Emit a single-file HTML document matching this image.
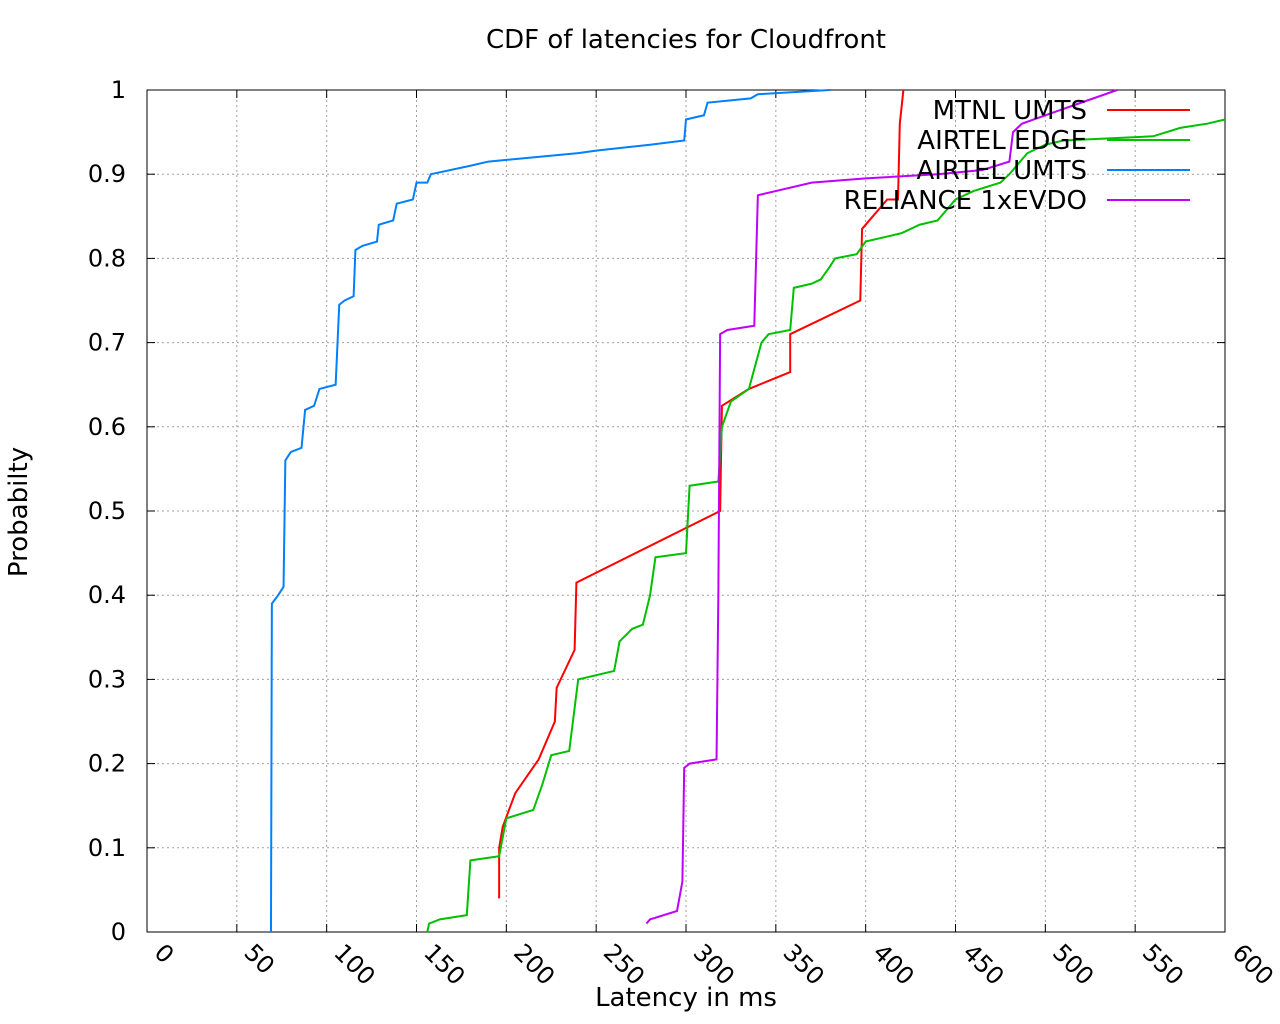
<!DOCTYPE html>
<html><head><meta charset="utf-8"><style>
html,body{margin:0;padding:0;background:#fff;}
svg{display:block;font-family:"DejaVu Sans","Liberation Sans",sans-serif;}
</style></head><body>
<svg id="chart" width="1280" height="1024" viewBox="0 0 1280 1024" xmlns="http://www.w3.org/2000/svg">
<rect width="1280" height="1024" fill="#fff"/>
<text x="686" y="48" font-size="26" text-anchor="middle">CDF of latencies for Cloudfront</text>
<g id="grid"></g><g id="axes"></g><g id="series"></g><g id="legend"></g>
<text x="686" y="1006" font-size="26" text-anchor="middle">Latency in ms</text>
<text transform="translate(27,512) rotate(-90)" font-size="26" text-anchor="middle">Probabilty</text>
</svg>
<script>
const xTicks=[0,50,100,150,200,250,300,350,400,450,500,550,600];
const yTicks=[0,0.1,0.2,0.3,0.4,0.5,0.6,0.7,0.8,0.9,1];
const yTickLabels=["0","0.1","0.2","0.3","0.4","0.5","0.6","0.7","0.8","0.9","1"];
const seriesNames=["MTNL UMTS","AIRTEL EDGE","AIRTEL UMTS","RELIANCE 1xEVDO"];
const seriesColors=["#ff0000","#00c000","#0080ff","#c000ff"];
const mtnl=[[196,0.04],[196,0.1],[198,0.125],[205,0.165],[218,0.205],[227,0.25],[228,0.29],[238,0.335],[239,0.415],[319,0.5],[320,0.625],[335,0.645],[358,0.665],[358,0.71],[397,0.75],[398,0.835],[412,0.87],[418,0.87],[419,0.96],[421,1.0]];
const edge=[[156,0],[157,0.01],[163,0.015],[178,0.02],[180,0.085],[196,0.09],[200,0.135],[215,0.145],[220,0.175],[225,0.21],[235,0.215],[240,0.3],[260,0.31],[263,0.345],[270,0.36],[276,0.365],[280,0.4],[283,0.445],[300,0.45],[302,0.53],[318,0.535],[320,0.6],[325,0.63],[335,0.645],[342,0.7],[346,0.71],[358,0.715],[360,0.765],[370,0.77],[375,0.775],[380,0.79],[383,0.8],[395,0.805],[400,0.82],[420,0.83],[430,0.84],[440,0.845],[450,0.87],[460,0.88],[475,0.89],[480,0.9],[490,0.925],[500,0.935],[510,0.94],[560,0.945],[575,0.955],[590,0.96],[600,0.965]];
const umts=[[69,0],[69.5,0.39],[73,0.4],[76,0.41],[77,0.56],[80,0.57],[86,0.575],[88,0.62],[93,0.625],[96,0.645],[105,0.65],[107,0.745],[110,0.75],[115,0.755],[116,0.81],[120,0.815],[128,0.82],[129,0.84],[137,0.845],[139,0.865],[148,0.87],[150,0.89],[156,0.89],[158,0.9],[180,0.91],[190,0.915],[240,0.925],[250,0.928],[280,0.935],[299,0.94],[300,0.965],[310,0.97],[312,0.985],[336,0.99],[340,0.995],[380,1.0]];
const reliance=[[278,0.01],[280,0.015],[295,0.025],[298,0.06],[299,0.195],[302,0.2],[317,0.205],[318,0.4],[319,0.71],[323,0.715],[338,0.72],[340,0.875],[370,0.89],[400,0.895],[440,0.9],[465,0.905],[480,0.915],[482,0.95],[487,0.96],[500,0.97],[520,0.985],[540,1.0]];
const allSeries=[mtnl,edge,umts,reliance];

const NS="http://www.w3.org/2000/svg";
const L=147,R=1225,T=90,B=932;
const xs=v=>L+(v-0)/(600-0)*(R-L);
const ys=v=>B-(v-0)/(1-0)*(B-T);
function mk(tag,attrs,parent){const e=document.createElementNS(NS,tag);for(const k in attrs)e.setAttribute(k,attrs[k]);parent.appendChild(e);return e;}
const grid=document.getElementById('grid'),axes=document.getElementById('axes'),ser=document.getElementById('series'),leg=document.getElementById('legend');
xTicks.forEach((t,i)=>{
  const x=xs(t);
  if(i>0&&i<xTicks.length-1){const g=mk('line',{x1:x,y1:T,x2:x,y2:B,stroke:'#a0a0a0','stroke-width':1,'stroke-dasharray':'2,3'},grid);
  
  }
  mk('line',{x1:x,y1:B,x2:x,y2:B-8,stroke:'#000'},axes);
  mk('line',{x1:x,y1:T,x2:x,y2:T+8,stroke:'#000'},axes);
  const tx=mk('text',{x:x+6,y:B+22,'font-size':24,transform:`rotate(45 ${x+6} ${B+22})`},axes);
  tx.textContent=String(t);
  
  
});
yTicks.forEach((t,i)=>{
  const y=ys(t);
  if(i>0&&i<yTicks.length-1){const g=mk('line',{x1:L,y1:y,x2:R,y2:y,stroke:'#a0a0a0','stroke-width':1,'stroke-dasharray':'2,3'},grid);
  
  }
  mk('line',{x1:L,y1:y,x2:L+8,y2:y,stroke:'#000'},axes);
  mk('line',{x1:R,y1:y,x2:R-8,y2:y,stroke:'#000'},axes);
  const tx=mk('text',{x:126,y:y+8,'font-size':24,'text-anchor':'end'},axes);
  tx.textContent=yTickLabels[i];
  
  
});
const frame=mk('rect',{x:L,y:T,width:R-L,height:B-T,fill:'none',stroke:'#000','stroke-width':1},axes);


const keys=['mtnl-umts','airtel-edge','airtel-umts','reliance-1xevdo'];
allSeries.forEach((d,i)=>{
  const p=mk('polyline',{points:d.map(q=>xs(q[0])+','+ys(q[1])).join(' '),fill:'none',stroke:seriesColors[i],'stroke-width':2},ser);
  
  
  const ly=110+i*30;
  const t=mk('text',{x:1087,y:ly+9,'font-size':26,'text-anchor':'end'},leg);
  t.textContent=seriesNames[i];
  
  
  const l=mk('line',{x1:1107,y1:ly,x2:1190,y2:ly,stroke:seriesColors[i],'stroke-width':2},leg);
  
  
});
</script>
</body></html>
